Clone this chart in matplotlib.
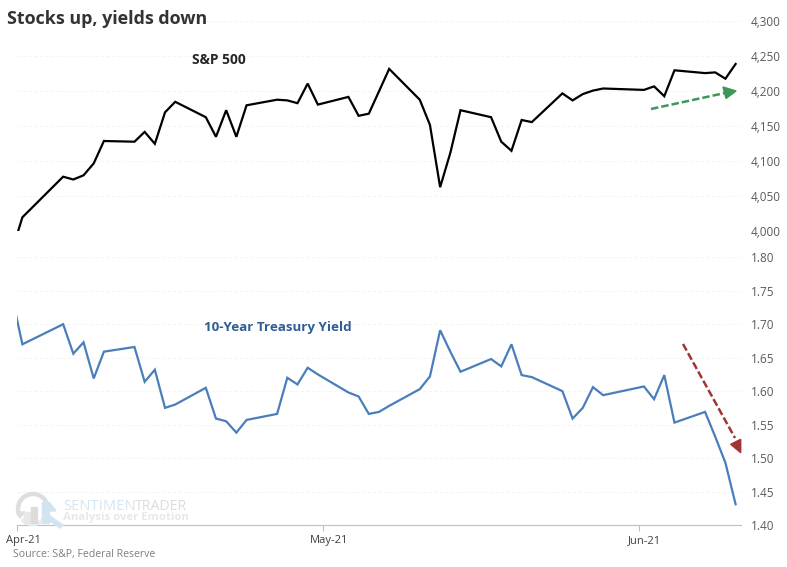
"""Stocks up, yields down: S&P 500 above the 10-year yield, Apr-Jun 2021."""
import pandas as pd
import matplotlib
matplotlib.use("Agg")
import matplotlib.pyplot as plt
import matplotlib.dates as mdates
from matplotlib.patches import Polygon, Rectangle, Wedge
from matplotlib.transforms import IdentityTransform

plt.rcParams["font.family"] = ["Open Sans", "DejaVu Sans"]

W, H = 787, 567

# ── Data ──
dates = [
    "2021-03-31", "2021-04-01", "2021-04-05", "2021-04-06", "2021-04-07", "2021-04-08", "2021-04-09",
    "2021-04-12", "2021-04-13", "2021-04-14", "2021-04-15", "2021-04-16",
    "2021-04-19", "2021-04-20", "2021-04-21", "2021-04-22", "2021-04-23",
    "2021-04-26", "2021-04-27", "2021-04-28", "2021-04-29", "2021-04-30",
    "2021-05-03", "2021-05-04", "2021-05-05", "2021-05-06", "2021-05-07",
    "2021-05-10", "2021-05-11", "2021-05-12", "2021-05-13", "2021-05-14",
    "2021-05-17", "2021-05-18", "2021-05-19", "2021-05-20", "2021-05-21",
    "2021-05-24", "2021-05-25", "2021-05-26", "2021-05-27", "2021-05-28",
    "2021-06-01", "2021-06-02", "2021-06-03", "2021-06-04",
    "2021-06-07", "2021-06-08", "2021-06-09", "2021-06-10",
]
spx = [
    3973, 4020, 4078, 4074, 4080, 4097, 4129,
    4128, 4142, 4125, 4170, 4185,
    4163, 4135, 4173, 4135, 4180,
    4188, 4187, 4183, 4211, 4181,
    4192, 4165, 4168, 4200, 4232,
    4188, 4152, 4063, 4112, 4173,
    4163, 4128, 4115, 4159, 4156,
    4197, 4187, 4196, 4201, 4204,
    4202, 4207, 4193, 4230,
    4226, 4227, 4218, 4239,
]
yld = [
    1.74, 1.67, 1.70, 1.656, 1.673, 1.619, 1.659,
    1.666, 1.614, 1.632, 1.575, 1.58,
    1.605, 1.559, 1.555, 1.538, 1.557,
    1.566, 1.62, 1.61, 1.635, 1.625,
    1.598, 1.592, 1.566, 1.569, 1.578,
    1.603, 1.622, 1.691, 1.659, 1.629,
    1.648, 1.637, 1.670, 1.624, 1.621,
    1.60, 1.559, 1.575, 1.606, 1.594,
    1.607, 1.588, 1.624, 1.553,
    1.569, 1.532, 1.493, 1.431,
]
spx_ticks = [4000, 4050, 4100, 4150, 4200, 4250, 4300]
yld_ticks = [1.40, 1.45, 1.50, 1.55, 1.60, 1.65, 1.70, 1.75, 1.80]
month_starts = ["2021-04-01", "2021-05-01", "2021-06-01"]
month_labels = ["Apr-21", "May-21", "Jun-21"]

x = mdates.date2num(pd.to_datetime(dates))
months = mdates.date2num(pd.to_datetime(month_starts))
xlim = (mdates.date2num(pd.Timestamp("2021-04-01")) - 0.5,
        mdates.date2num(pd.Timestamp("2021-06-10")) + 0.5)


def box(left, top, right, bottom):
    # axes rectangle from pixel edges, y counted from the top of the image
    return [left / W, 1 - bottom / H, (right - left) / W, (bottom - top) / H]


def fx(px):
    return px / W


def fy(py):
    return 1 - py / H


fig = plt.figure(figsize=(W / 100, H / 100), dpi=100, facecolor="white")
ax1 = fig.add_axes(box(17.3, 21.3, 740.7, 231.3))
ax2 = fig.add_axes(box(17.3, 257.3, 740.7, 525))

# ── Watermark (logo in raw pixels, y flipped) ──
grey_wm, blue_wm = "#dcdedf", "#d3e4f1"
px_tr = IdentityTransform()
logo = [
    Wedge((33, H - 509), 16.5, -5, 205, width=3, transform=px_tr, color=grey_wm),
    Wedge((33, H - 509), 16.5, 225, 325, width=3, transform=px_tr, color="#e6eef4"),
    Polygon([(17, H - 512), (25, H - 512), (20, H - 518)], transform=px_tr, color=grey_wm),
    Rectangle((24, H - 523), 6, 11, transform=px_tr, color="#e8e8e8"),
    Rectangle((31, H - 523), 6, 16, transform=px_tr, color="#dcdcdc"),
    Rectangle((42, H - 523), 7, 21, transform=px_tr, color=blue_wm),
    Polygon([(50, H - 503), (44, H - 511), (56, H - 511)], transform=px_tr, color=blue_wm),
    Polygon([(47, H - 519), (50, H - 516), (63, H - 525), (60, H - 528)], transform=px_tr, color=blue_wm),
]
for p in logo:
    fig.add_artist(p)
fig.text(fx(63), fy(506), "SENTIMEN", color="#d5e6f2", fontsize=10.6, va="center")
fig.text(fx(134.5), fy(506), "TRADER", color="#dcdcdc", fontsize=10.2, va="center")
fig.text(fx(63), fy(517.5), "Analysis over Emotion", color="#e8e8e8", fontsize=8.2, va="center",
         fontweight="bold")

# ── Panels ──
ax1.plot(x, spx, color="black", lw=1.6, solid_joinstyle="miter", zorder=3)
ax2.plot(x, yld, color="#4a7ebb", lw=1.6, solid_joinstyle="miter", zorder=3)

ax1.set_ylim(4000, 4300)
ax2.set_ylim(1.40, 1.80)
ax1.set_yticks(spx_ticks, [f"{v:,}" for v in spx_ticks])
ax2.set_yticks(yld_ticks, [f"{v:.2f}" for v in yld_ticks])

for ax in (ax1, ax2):
    ax.patch.set_alpha(0)
    ax.set_xlim(*xlim)
    ax.yaxis.tick_right()
    ax.tick_params(axis="y", length=0, pad=7.5, labelsize=8.5, labelcolor="#595959")
    ax.grid(axis="y", color="#f5f5f5", lw=0.8, ls=(0, (3, 2)))
    ax.set_axisbelow(True)
    for s in ax.spines.values():
        s.set_visible(False)

ax1.set_xticks([])
# tick marks sit half a day before the month, the labels on the first day
ax2.set_xticks(months - 0.5, [""] * len(months))
ax2.set_xticks(months + 0.1, month_labels, minor=True)
ax2.tick_params(axis="x", which="major", length=4, width=0.8, color="#bfbfbf")
ax2.tick_params(axis="x", which="minor", length=0, pad=7, labelsize=8, labelcolor="#404040")
ax2.spines["bottom"].set_visible(True)
ax2.spines["bottom"].set_color("#bfbfbf")

# ── Text ──
fig.text(fx(7), fy(19.5), "Stocks up, yields down", fontsize=12.9, fontweight="bold",
         color="#333333", va="center")
fig.text(fx(219), fy(60.5), "S&P 500", fontsize=9.9, fontweight="bold", color="#262626",
         ha="center", va="center")
fig.text(fx(278), fy(327), "10-Year Treasury Yield", fontsize=9.6, fontweight="bold", color="#2f5d96",
         ha="center", va="center")
fig.text(fx(13), fy(554), "Source: S&P, Federal Reserve", fontsize=7.6, color="#7f7f7f", va="center")

# ── Trend arrows ──
green, red = "#3d9658", "#a33434"
fig.add_artist(plt.Line2D([fx(651), fx(725)], [fy(109), fy(93)], color=green, lw=1.8,
                          ls=(0, (3, 1.2)), transform=fig.transFigure))
fig.add_artist(Polygon([(fx(736), fy(91)), (fx(723), fy(87)), (fx(726), fy(98.5))],
                       transform=fig.transFigure, color=green))
fig.add_artist(plt.Line2D([fx(683), fx(735)], [fy(344), fy(438)], color=red, lw=1.8,
                          ls=(0, (3, 1.2)), transform=fig.transFigure))
fig.add_artist(Polygon([(fx(730.7), fy(444.3)), (fx(740.7), fy(439.3)), (fx(740.7), fy(452.7))],
                       transform=fig.transFigure, color=red))

fig.savefig("out.png", dpi=100)
